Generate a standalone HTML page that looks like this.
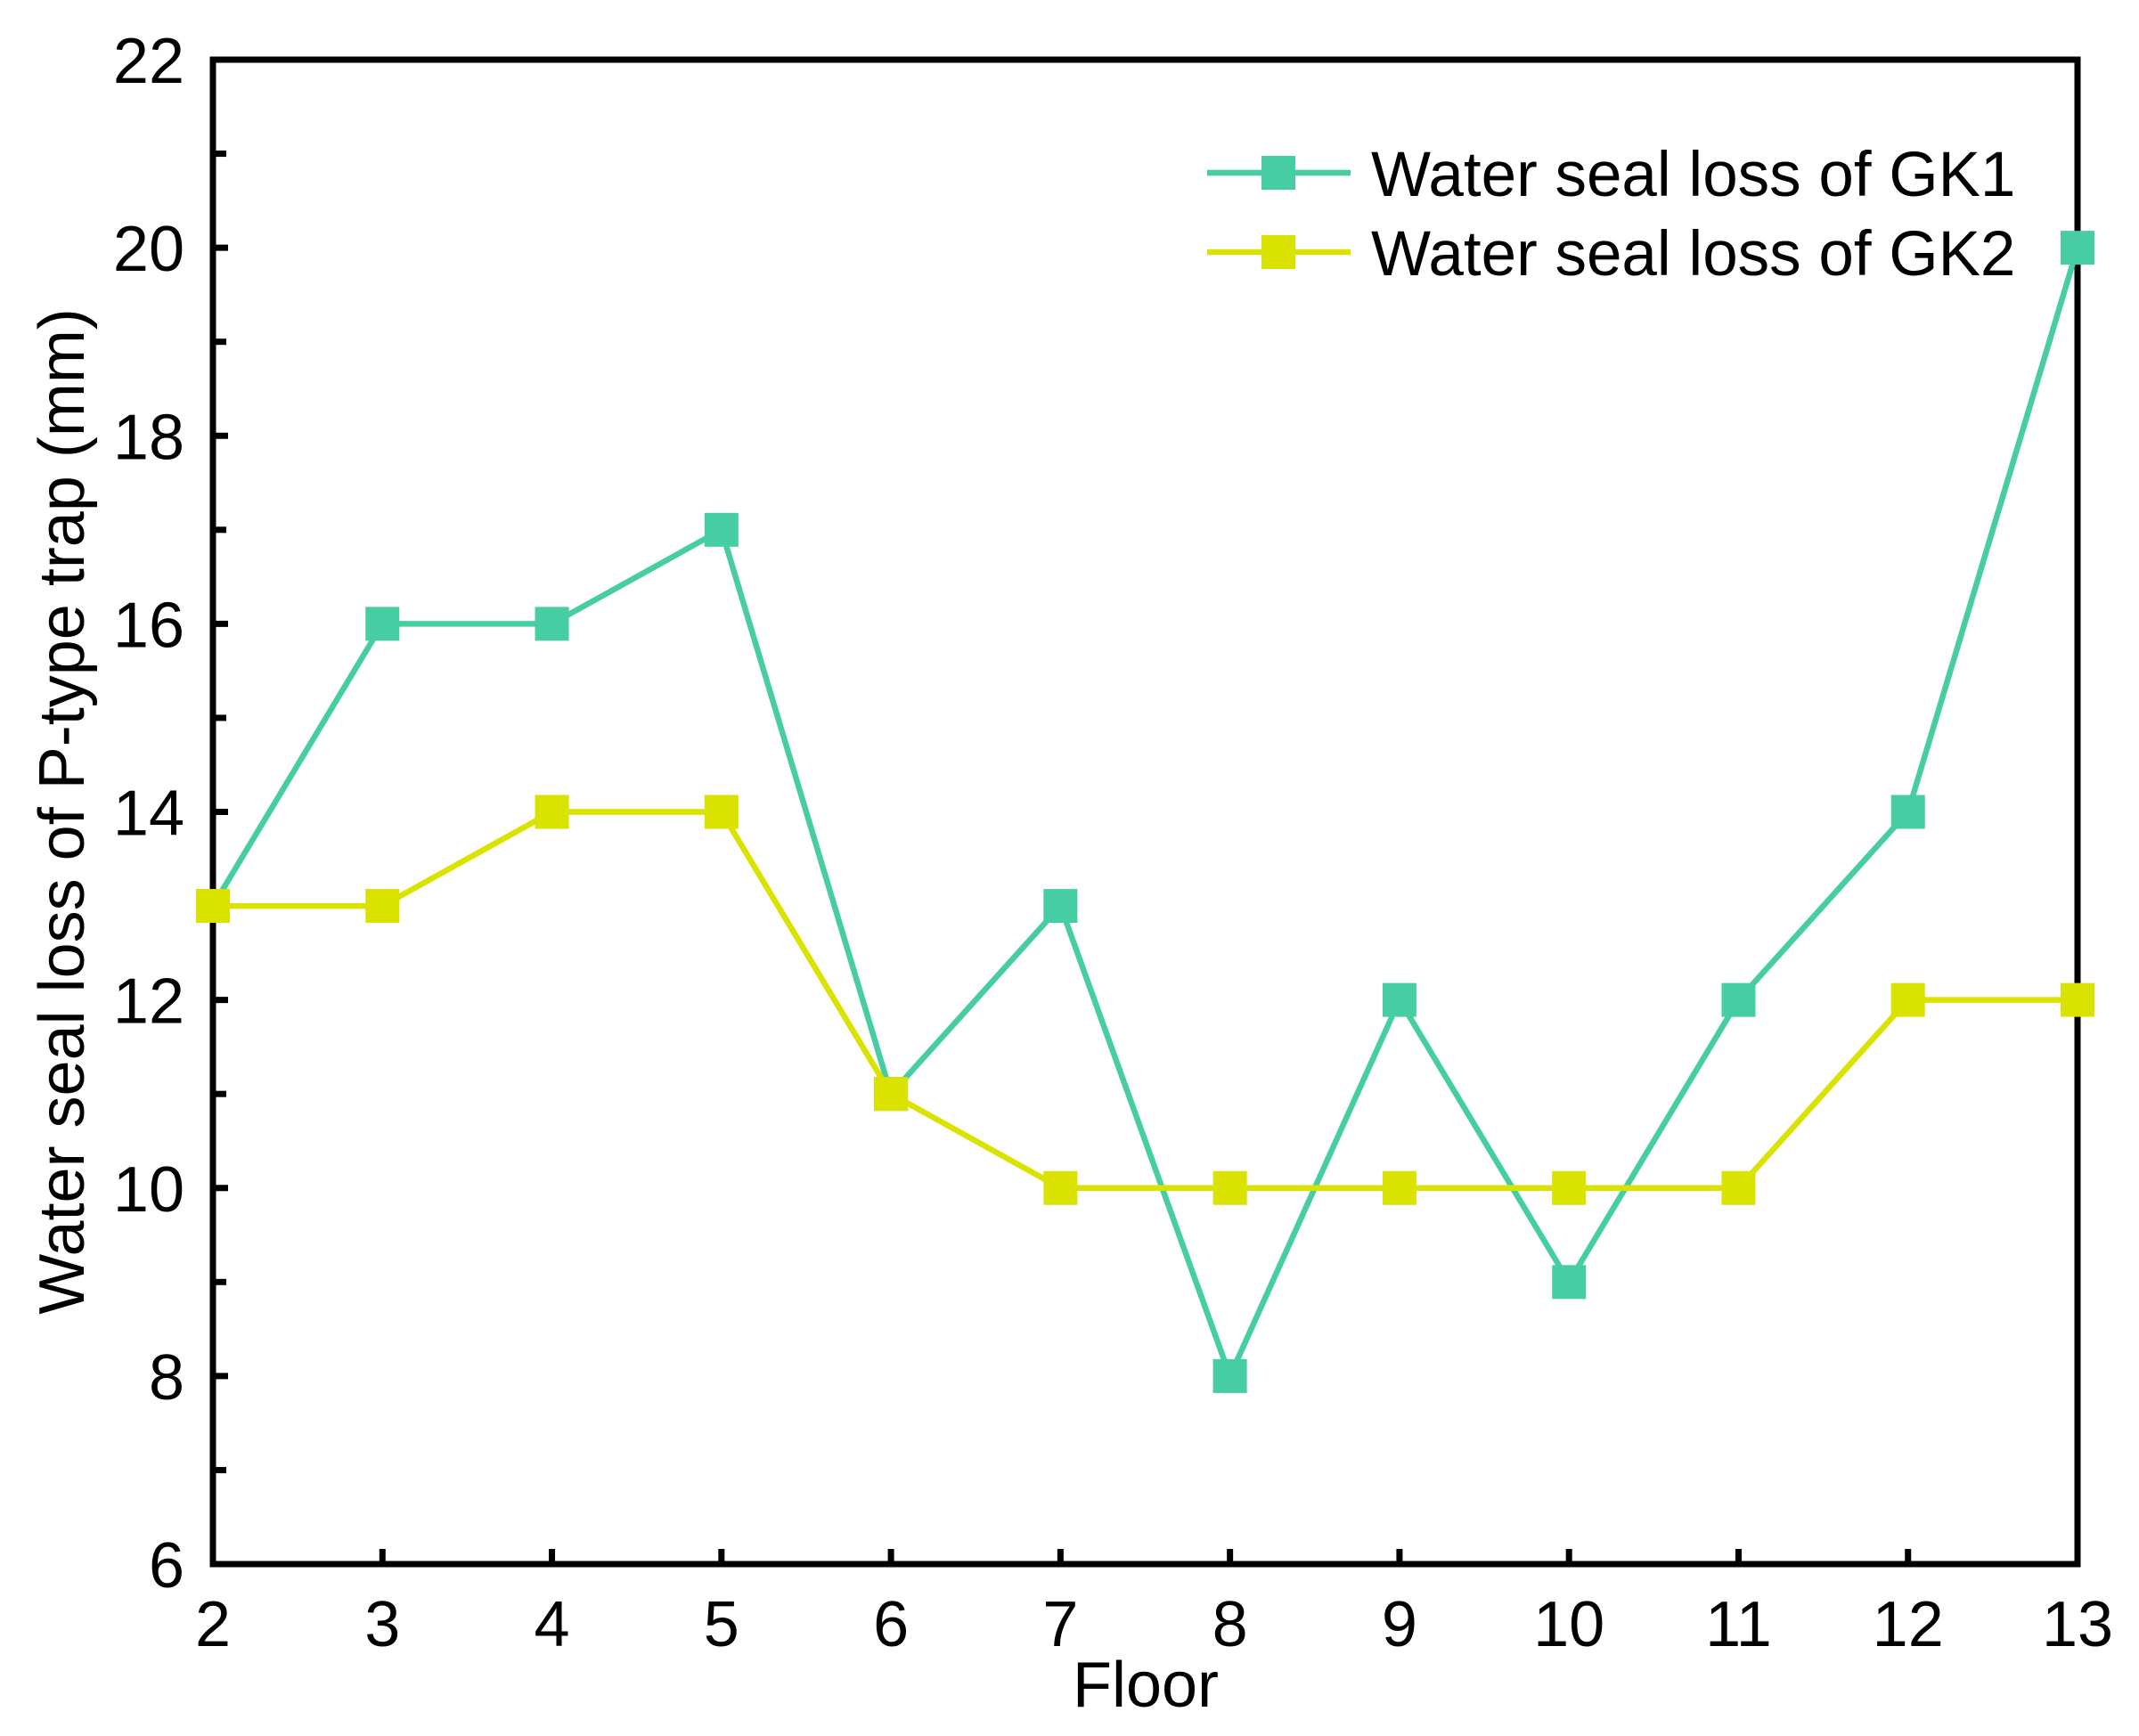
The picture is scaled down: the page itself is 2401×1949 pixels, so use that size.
<!DOCTYPE html>
<html><head><meta charset="utf-8"><style>
html,body{margin:0;padding:0;background:#fff;}
svg{display:block;font-family:"Liberation Sans",Arial,sans-serif;}
</style></head><body>
<svg id="chart" width="2401" height="1949" viewBox="0 0 2401 1949" xmlns="http://www.w3.org/2000/svg">
<g id="axes"></g>
<g id="series"></g>
<text x="1286" y="1916" font-size="72" text-anchor="middle">Floor</text>
<text transform="translate(94,911) rotate(-90)" font-size="72" text-anchor="middle">Water seal loss of P-type trap (mm)</text>
<g>
  <g>
    <line x1="1355" y1="194" x2="1516" y2="194" stroke="#47CDA3" stroke-width="6.5"/>
    <rect x="1416" y="175" width="38" height="38" fill="#47CDA3"/>
    <text x="1539" y="220" font-size="71">Water seal loss of GK1</text>
  </g>
  <g>
    <line x1="1355" y1="283" x2="1516" y2="283" stroke="#DAE200" stroke-width="6.5"/>
    <rect x="1416" y="264" width="38" height="38" fill="#DAE200"/>
    <text x="1539" y="309" font-size="71">Water seal loss of GK2</text>
  </g>
</g>
</svg>
<script>
const floors = [2,3,4,5,6,7,8,9,10,11,12,13];
const gk1 = [13,16,16,17,11,13,8,12,9,12,14,20];
const gk2 = [13,13,14,14,11,10,10,10,10,10,12,12];
const yTicks = [6,8,10,12,14,16,18,20,22];
const yMinor = [7,9,11,13,15,17,19,21];

const L=239,R=2332,T=67,B=1756;
const xs=v=>L+(v-2)/(13-2)*(R-L);
const ys=v=>B-(v-6)/(22-6)*(B-T);
const NS='http://www.w3.org/2000/svg';
function mk(tag,attrs,parent){const e=document.createElementNS(NS,tag);for(const k in attrs)e.setAttribute(k,attrs[k]);parent.appendChild(e);return e;}
const ax=document.getElementById('axes');
const frame=mk('rect',{x:L,y:T,width:R-L,height:B-T,fill:'none',stroke:'#000','stroke-width':7},ax);


yTicks.forEach(v=>{
  const t=mk('line',{x1:L,x2:L+17,y1:ys(v),y2:ys(v),stroke:'#000','stroke-width':7},ax);
  
  
  const lb=mk('text',{x:L-32,y:ys(v)+26,'font-size':72,'text-anchor':'end'},ax);
  lb.textContent=v;
  
  
});
yMinor.forEach(v=>{
  const t=mk('line',{x1:L,x2:L+15,y1:ys(v),y2:ys(v),stroke:'#000','stroke-width':7},ax);
  
  
});
floors.forEach(f=>{
  const t=mk('line',{x1:xs(f),x2:xs(f),y1:B,y2:B-17,stroke:'#000','stroke-width':7},ax);
  
  
  const lb=mk('text',{x:xs(f),y:1848,'font-size':72,'text-anchor':'middle'},ax);
  lb.textContent=f;
  
  
});
const sg=document.getElementById('series');
function drawSeries(vals,color,name){
  const g=mk('g',{},sg);
  
  
  const pl=mk('polyline',{points:vals.map((v,i)=>xs(floors[i])+','+ys(v)).join(' '),fill:'none',stroke:color,'stroke-width':6.5},g);
  
  
  vals.forEach((v,i)=>{
    const r=mk('rect',{x:xs(floors[i])-19,y:ys(v)-19,width:38,height:38,fill:color},g);
    
    
  });
}
drawSeries(gk1,'#47CDA3','series-gk1');
drawSeries(gk2,'#DAE200','series-gk2');
</script>
</body></html>
